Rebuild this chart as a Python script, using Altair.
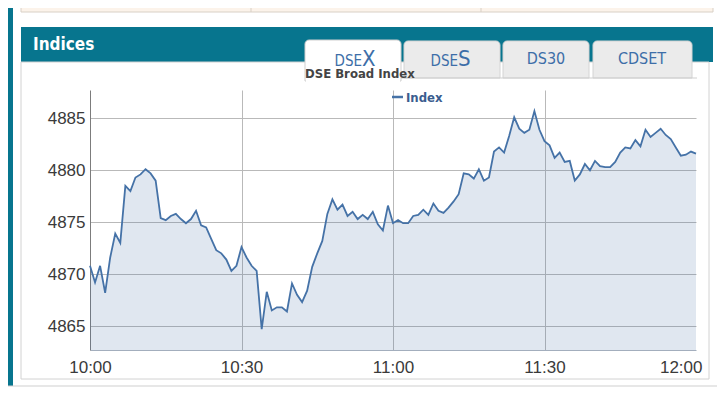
import altair as alt
import pandas as pd

# ---- data -------------------------------------------------------------
minutes = list(range(121))  # 10:00 .. 12:00, one point per minute
index_values = [
    4870.8, 4869.2, 4870.8, 4868.2, 4871.6, 4873.9, 4873.0, 4878.5, 4878.0, 4879.3,
    4879.6, 4880.1, 4879.7, 4879.0, 4875.4, 4875.2, 4875.6, 4875.8, 4875.3, 4874.9,
    4875.3, 4876.1, 4874.7, 4874.5, 4873.4, 4872.3, 4872.0, 4871.4, 4870.3, 4870.8,
    4872.6, 4871.6, 4870.8, 4870.3, 4864.7, 4868.3, 4866.5, 4866.8, 4866.8, 4866.4,
    4869.1, 4868.0, 4867.3, 4868.4, 4870.7, 4872.0, 4873.2, 4875.8, 4877.2, 4876.2,
    4876.7, 4875.6, 4876.0, 4875.3, 4875.7, 4875.3, 4876.0, 4874.8, 4874.2, 4876.6,
    4874.9, 4875.2, 4874.9, 4874.9, 4875.6, 4875.7, 4876.2, 4875.7, 4876.8, 4876.1,
    4875.9, 4876.4, 4877.0, 4877.7, 4879.7, 4879.6, 4879.2, 4880.1, 4879.0, 4879.3,
    4881.8, 4882.2, 4881.7, 4883.3, 4885.1, 4884.0, 4883.6, 4883.9, 4885.7, 4883.9,
    4882.8, 4882.4, 4881.2, 4881.7, 4880.8, 4880.9, 4879.0, 4879.6, 4880.6, 4880.0,
    4880.9, 4880.4, 4880.3, 4880.3, 4880.8, 4881.7, 4882.2, 4882.1, 4882.9, 4882.3,
    4883.9, 4883.2, 4883.6, 4884.0, 4883.4, 4883.0, 4882.2, 4881.4, 4881.5, 4881.8,
    4881.6,
]
x_tick_values = [0, 30, 60, 90, 120]
x_tick_labels = ["10:00", "10:30", "11:00", "11:30", "12:00"]
y_tick_values = [4865, 4870, 4875, 4880, 4885]
y_domain = [4862.69, 4887.73]
series_name = "Index"
panel_title = "Indices"
chart_title = "DSE Broad Index"

df = pd.DataFrame({"minute": minutes, "value": index_values})
one = pd.DataFrame({"k": [0]})

NARROW = "Liberation Sans Narrow, Arial Narrow, DejaVu Sans Condensed, sans-serif"
SANS = "Liberation Sans, Arial, sans-serif"
LINE = "#4572a7"
GRID = "#b9b9b9"
TEAL = "#07758e"
TABTXT = "#3d6ea8"

label_expr = " : ".join(
    f"datum.value == {v} ? '{t}'" for v, t in zip(x_tick_values, x_tick_labels)
) + " : ''"

x_enc = alt.X(
    "minute:Q",
    scale=alt.Scale(domain=[0, 120], nice=False, zero=False),
    axis=alt.Axis(
        values=x_tick_values, labelExpr=label_expr, title=None,
        grid=True, gridColor=GRID,
        gridOpacity={"condition": {"test": "datum.value <= 0 || datum.value >= 120", "value": 0}, "value": 1},
        ticks=False, tickSize=0, domainColor="#a3aebd",
        labelFont=SANS, labelFontSize=17, labelColor="#3a3a3a", labelPadding=9,
        labelAlign={"condition": {"test": "datum.value >= 120", "value": "right"}, "value": "center"},
        labelOffset={"condition": {"test": "datum.value >= 120", "value": 6}, "value": 0},
    ),
)
y_enc = alt.Y(
    "value:Q",
    scale=alt.Scale(domain=y_domain, nice=False, zero=False),
    axis=alt.Axis(
        values=y_tick_values, format="d", title=None,
        grid=True, gridColor=GRID, ticks=False, tickSize=0,
        domainColor="#7c7c7c", labelFont=SANS, labelFontSize=17,
        labelColor="#3a3a3a", labelPadding=5,
    ),
)

area = alt.Chart(df).mark_area(fill=LINE, fillOpacity=0.17).encode(
    x=x_enc, y=y_enc, y2=alt.datum(y_domain[0])
)
line = alt.Chart(df).mark_line(color=LINE, strokeWidth=1.8).encode(x="minute:Q", y="value:Q")


def rect(x, x2, y, y2, **kw):
    return alt.Chart(one).mark_rect(**kw).encode(
        x=alt.value(x), x2=alt.value(x2), y=alt.value(y), y2=alt.value(y2))


def text(t, x, y, **kw):
    return alt.Chart(one).mark_text(text=t, **kw).encode(x=alt.value(x), y=alt.value(y))


def rule(x, x2, y, y2, **kw):
    return alt.Chart(one).mark_rule(**kw).encode(
        x=alt.value(x), x2=alt.value(x2), y=alt.value(y), y2=alt.value(y2))


deco = [
    rect(-82, -77, -82, 296, fill=TEAL),                                   # left bar
    rect(-69, 623, -84, -78, fill="#fcf3ea", stroke="#d9d0c6", strokeWidth=1),  # top strip
    rule(161, 161, -82, -78, color="#d9d0c6"),
    rule(391, 391, -82, -78, color="#d9d0c6"),
    rect(-69, 623, -63, -28, fill=TEAL),                                   # header
    rect(-69, 619, -28, 289, fillOpacity=0, stroke="#d2d2d2", strokeWidth=1),  # panel
    rule(-82, 627, 296, 296, color="#cfcfcf"),
    # tabs
    rect(314, 410, -49, -12, fill="#ebebeb", stroke="#d4d4d4", cornerRadiusTopLeft=4, cornerRadiusTopRight=4),
    rect(413, 499, -49, -12, fill="#ebebeb", stroke="#d4d4d4", cornerRadiusTopLeft=4, cornerRadiusTopRight=4),
    rect(503, 602, -49, -12, fill="#ebebeb", stroke="#d4d4d4", cornerRadiusTopLeft=4, cornerRadiusTopRight=4),
    rule(311, 607, -12, -12, color="#cfcfcf"),
    rect(215, 311, -50, -9, fill="white", stroke="#cfcfcf", cornerRadiusTopLeft=4, cornerRadiusTopRight=4),
    rect(216, 310, -13, -7, fill="white"),
    text(panel_title, -57, -45, font=NARROW, fontSize=17, fontWeight="bold", color="white",
         align="left", baseline="middle"),
    text("DSE", 272, -24, font=NARROW, fontSize=15, color=TABTXT, align="right", baseline="alphabetic"),
    text("X", 272, -24, font=NARROW, fontSize=22, color=TABTXT, align="left", baseline="alphabetic"),
    text("DSE", 368, -24, font=NARROW, fontSize=15, color=TABTXT, align="right", baseline="alphabetic"),
    text("S", 368, -24, font=NARROW, fontSize=22, color=TABTXT, align="left", baseline="alphabetic"),
    text("DS30", 456, -26, font=NARROW, fontSize=16, color=TABTXT, align="center", baseline="alphabetic"),
    text("CDSET", 552, -26, font=NARROW, fontSize=16, color=TABTXT, align="center", baseline="alphabetic"),
    text(chart_title, 215, -16, font=NARROW, fontSize=13, fontWeight="bold", color="#444444",
         align="left", baseline="middle"),
]

legend = [
    rule(302, 313, 7, 7, color=LINE, strokeWidth=2.5),
    text(series_name, 316, 8, font=NARROW, fontSize=13, fontWeight="bold", color="#3a5d8f",
         align="left", baseline="middle"),
]

chart = alt.layer(area, line, *deco, *legend).properties(
    width=606, height=260,
    autosize=alt.AutoSizeParams(type="none"),
    padding={"left": 82, "top": 82, "right": 21, "bottom": 42},
).configure_view(strokeWidth=0)

chart.save("out.html", embed_options={"renderer": "svg", "actions": False})
